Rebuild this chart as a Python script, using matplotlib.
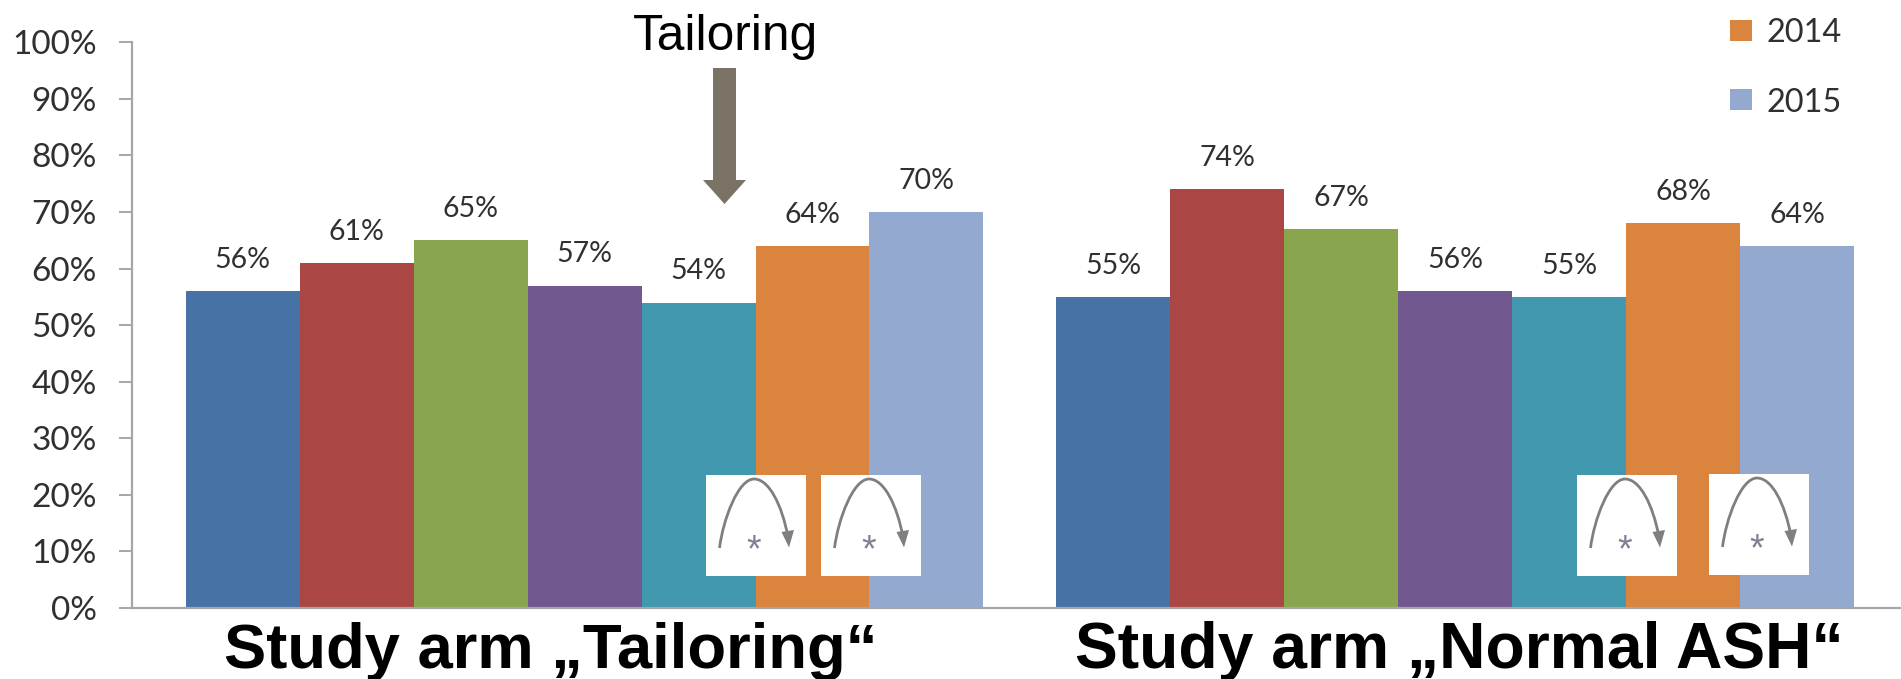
import matplotlib
matplotlib.use("Agg")
import matplotlib.pyplot as plt
from matplotlib.patches import PathPatch, Polygon, Rectangle
from matplotlib.path import Path

W, H = 1901, 679

# Bar values per study arm, order of the years as in the legend
tailoring = [56, 61, 65, 57, 54, 64, 70]
normal_ash = [55, 74, 67, 56, 55, 68, 64]
bar_colors = ["#4672A6", "#AA4643", "#89A54E", "#71588F", "#4198AF", "#DB843D", "#93A9CF"]
y_ticks = [0, 10, 20, 30, 40, 50, 60, 70, 80, 90, 100]
legend_years = ["2014", "2015"]
legend_colors = ["#DB843D", "#93A9CF"]
group_titles = ["Study arm \u201eTailoring\u201c", "Study arm \u201eNormal ASH\u201c"]
GROUP_GAP = 7.636

AXIS_GRAY = "#A6A6A6"
TEXT_DARK = "#303030"

fig = plt.figure(figsize=(W / 100, H / 100), dpi=100)
fig.patch.set_facecolor("white")

# Axes box: left 131.5, right 1900, top 42.3, bottom 608 (pixels)
ax = fig.add_axes([131.5 / W, 1 - 608 / H, (1900 - 131.5) / W, (608 - 42.3) / H])
ax.set_xlim(-0.974, 14.54)
ax.set_ylim(0, 100)

for offset, values in [(0, tailoring), (GROUP_GAP, normal_ash)]:
    for i, v in enumerate(values):
        ax.bar(offset + i, v, width=1.0, color=bar_colors[i], linewidth=0)
        ax.annotate(f"{v}%", (offset + i, v), xytext=(0, 22.5), textcoords="offset points",
                    ha="center", va="center", fontsize=20.5, family="Lato", color=TEXT_DARK)

for side in ["top", "right"]:
    ax.spines[side].set_visible(False)
for side in ["left", "bottom"]:
    ax.spines[side].set_color(AXIS_GRAY)
    ax.spines[side].set_linewidth(1.6)
ax.set_xticks([])
ax.set_yticks(y_ticks)
ax.set_yticklabels([f"{t}%" for t in y_ticks], fontsize=24, family="Lato", color=TEXT_DARK)
ax.tick_params(axis="y", length=9.5, width=1.4, color=AXIS_GRAY, pad=15.5)

# Overlay in pixel coordinates for the annotations around the bars
ov = fig.add_axes([0, 0, 1, 1], facecolor="none")
ov.set_xlim(0, W)
ov.set_ylim(H, 0)
ov.axis("off")


def arc_box(x, y):
    ov.add_patch(Rectangle((x, y), 99.5, 101, facecolor="white", edgecolor="none"))
    verts = [(x + 13.5, y + 73), (x + 17, y + 45), (x + 32, y + 4), (x + 48, y + 4),
             (x + 63, y + 4), (x + 76, y + 30), (x + 82, y + 62)]
    codes = [Path.MOVETO, Path.CURVE4, Path.CURVE4, Path.CURVE4, Path.CURVE4, Path.CURVE4, Path.CURVE4]
    ov.add_patch(PathPatch(Path(verts, codes), facecolor="none", edgecolor="#7F7F7F", linewidth=2.0))
    ov.add_patch(Polygon([(x + 75.5, y + 57), (x + 88, y + 55), (x + 83, y + 72.5)],
                         facecolor="#7F7F7F", edgecolor="none"))
    ov.text(x + 47.5, y + 76, "*", ha="center", va="center", fontsize=27,
            family="Liberation Sans", color="#7F8296")


for bx, by in [(706, 475), (821, 475), (1577, 475), (1709, 474)]:
    arc_box(bx, by)

# Arrow marking the start of the tailoring
ov.add_patch(Polygon([(713, 68), (736, 68), (736, 180), (746, 180), (724.5, 204), (703, 180), (713, 180)],
                     facecolor="#7B7266", edgecolor="none"))
ov.text(725, 37.5, "Tailoring", ha="center", va="center", fontsize=35.7,
        family="Liberation Sans", color="black")

for year, color, ty, text_y in zip(legend_years, legend_colors, [30, 99], [33, 103]):
    ov.add_patch(Rectangle((1730, ty - 10.5), 22, 21, facecolor=color, edgecolor="none"))
    ov.text(1767, text_y, year, ha="left", va="center", fontsize=23.4, family="Lato", color=TEXT_DARK)

for title, tx, size in zip(group_titles, [551, 1459], [45.6, 46.3]):
    ov.text(tx, 668, title, ha="center", va="baseline", fontsize=size, fontweight="bold",
            family="Liberation Sans", color="black")

fig.savefig("out.png", dpi=100)
